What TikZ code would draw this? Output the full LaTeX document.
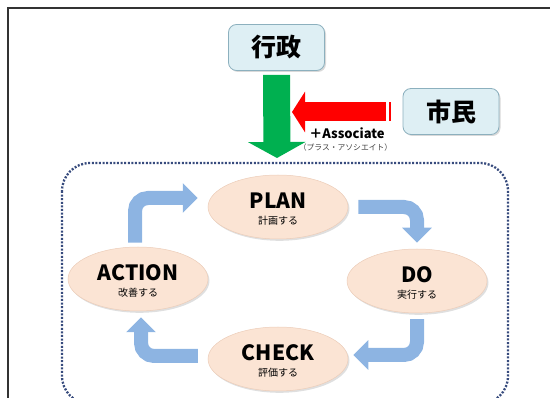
\documentclass[tikz,border=0pt]{standalone}
\usepackage{fontspec}
\setmainfont{Noto Sans CJK JP}
\usetikzlibrary{arrows.meta,shadows,shapes.geometric}
\definecolor{boxfill}{RGB}{222,239,244}
\definecolor{boxdraw}{RGB}{140,176,190}
\definecolor{peach}{RGB}{251,228,212}
\definecolor{peachdraw}{RGB}{236,205,185}
\definecolor{flowblue}{RGB}{141,180,226}
\definecolor{greenarrow}{RGB}{0,176,80}
\definecolor{dotblue}{RGB}{55,75,125}
\tikzset{
  actor/.style={draw=boxdraw, line width=0.8pt, fill=boxfill, rounded corners=8pt,
    minimum width=96pt, minimum height=46pt, inner sep=0pt,
    drop shadow={opacity=0.3, shadow xshift=1.5pt, shadow yshift=-1.5pt},
    font=\fontsize{25}{27}\selectfont\bfseries},
  phase/.style={ellipse, draw=peachdraw, line width=0.5pt, fill=peach,
    minimum width=140pt, minimum height=64pt, inner sep=0pt,
    drop shadow={opacity=0.25, shadow xshift=1.5pt, shadow yshift=-1.8pt}},
  maintxt/.style={inner sep=0pt, font=\fontsize{21}{23}\selectfont\bfseries},
  subtxt/.style={inner sep=0pt, font=\fontsize{10}{12}\selectfont},
  flow/.style={draw=flowblue, line width=14pt, rounded corners=13pt,
    -{Triangle[width=29pt,length=15pt]}},
}
\begin{document}
\begin{tikzpicture}[x=1pt,y=-1pt]
\useasboundingbox (0,0) rectangle (550,398);
% slide frame
\draw[black!80, line width=1.8pt] (550,8) -- (8,8) -- (8,400);
% dotted cycle frame
\draw[dotblue, line width=2.3pt, dash pattern=on 2pt off 1.6pt, rounded corners=28pt]
  (62,163) rectangle (508,404);
% actors
\node[actor] (gyosei) at (276.5,47.5) {行政};
\node[actor] (shimin) at (451,111.5) {市民};
% phases
\node[phase] (plan) at (278,207) {};
\node[phase] (do) at (417,281) {};
\node[phase] (check) at (278,359) {};
\node[phase] (action) at (138,279) {};
\node[maintxt] (planT) at ([yshift=6pt]plan.center) {PLAN};
\node[subtxt] (planS) at ([yshift=-13.5pt]plan.center) {計画する};
\node[maintxt] (doT) at ([yshift=6pt]do.center) {DO};
\node[subtxt] (doS) at ([yshift=-13.5pt]do.center) {実行する};
\node[maintxt] (checkT) at ([yshift=6pt]check.center) {CHECK};
\node[subtxt] (checkS) at ([yshift=-13.5pt]check.center) {評価する};
\node[maintxt] (actionT) at ([yshift=6pt]action.center) {ACTION};
\node[subtxt] (actionS) at ([yshift=-13.5pt]action.center) {改善する};
% cycle arrows
\draw[flow] ([xshift=-3pt,yshift=4pt]action.north) |- ([xshift=-10pt,yshift=9pt]plan.west);
\draw[flow] ([xshift=10pt]plan.east) -| ([yshift=6pt]do.north);
\draw[flow] ([yshift=-6pt]do.south) |- ([xshift=5pt,yshift=4pt]check.east);
\draw[flow] ([xshift=-10pt,yshift=3pt]check.west) -| ([xshift=3pt,yshift=-6pt]action.south);
% green arrow
\coordinate (gtip) at (277,158);
\draw[greenarrow, line width=27pt, -{Triangle[width=57pt,length=16pt]}]
  ([yshift=-4pt]gyosei.south) -- (gtip);
% red arrow
\coordinate (rtip) at (292,112);
\draw[red, line width=19pt, -{Triangle[width=40pt,length=13pt]}]
  ([xshift=-17pt,yshift=-0.5pt]shimin.west) -- (rtip);
\fill[red] (388.5,102.5) rectangle (390.5,121.5);
% labels
\node[inner sep=0pt, font=\fontsize{13}{14}\selectfont\bfseries] (assoc) at (347,133) {＋Associate};
\node[inner sep=0pt, font=\fontsize{7.8}{9}\selectfont, text=black!75] (assocS) at (345.5,148) {（プラス・アソシエイト）};
\end{tikzpicture}
\end{document}
